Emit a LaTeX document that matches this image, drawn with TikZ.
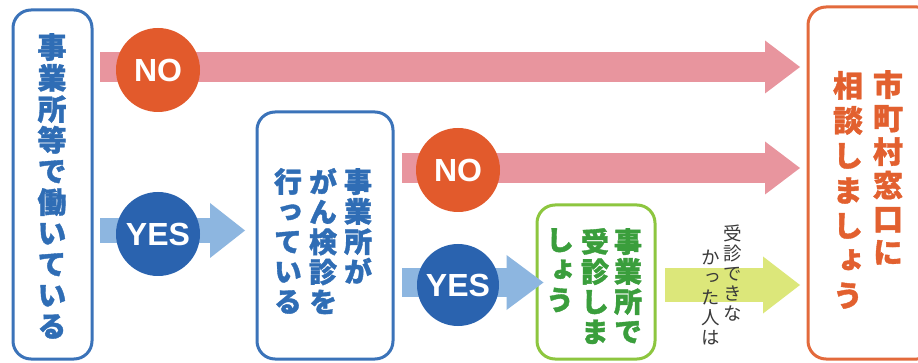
\documentclass[tikz,border=0pt]{standalone}
\usepackage{fontspec}
\setmainfont{Liberation Sans}
\newfontfamily\jp{Noto Sans CJK JP}[RawFeature=+vert, BoldFeatures={FakeBold=1.3}]
\usetikzlibrary{arrows.meta}
\definecolor{blueT}{HTML}{2F6DB5}
\definecolor{boxblue}{HTML}{3B73B9}
\definecolor{circBlue}{HTML}{2A63AF}
\definecolor{lightBlue}{HTML}{8DB6E0}
\definecolor{pinkA}{HTML}{E8959E}
\definecolor{redC}{HTML}{E25A2C}
\definecolor{greenB}{HTML}{8DC63F}
\definecolor{greenT}{HTML}{3A9E3C}
\definecolor{ygA}{HTML}{DCE77A}
\definecolor{orangeB}{HTML}{E36A3C}
\definecolor{orangeT}{HTML}{E2602F}
\definecolor{smallT}{HTML}{3A3A3A}
\begin{document}
\begin{tikzpicture}[x=1pt,y=-1pt,
  bx/.style={draw, line width=3pt, rounded corners=18pt, inner sep=0pt},
  circ/.style={circle, inner sep=0pt, minimum size=84pt, text=white,
    font=\bfseries\fontsize{32}{32}\selectfont},
  vt/.style={inner sep=0pt, align=center, anchor=north},
  bigjp/.style={font=\jp\bfseries\fontsize{28}{30}\selectfont},
]
\clip (0,0) rectangle (918,363);
\fill[white] (0,0) rectangle (918,363);

% boxes
\node[bx, draw=boxblue, minimum width=79pt, minimum height=349pt] (lbox) at (52.5,184.5) {};
\node[bx, draw=boxblue, minimum width=136pt, minimum height=247pt] (mbox) at (325,235.5) {};
\node[bx, draw=orangeB, minimum width=127pt, minimum height=352pt] (rbox) at (871.5,183) {};
\node[bx, draw=greenB, minimum width=118pt, minimum height=154pt] (gbox) at (596,282) {};

% start points of the arrows
\coordinate (s1) at (100,67);
\coordinate (s2) at (402,168);
\coordinate (s3) at (100,230.5);
\coordinate (s4) at (402,282.5);
\coordinate (s5) at (665,285);

% arrows
\draw[pinkA, line width=30pt, -{Triangle[length=35pt,width=53pt,line width=0pt]}, shorten >=6.5pt] (s1) -- (s1 -| rbox.west);
\draw[pinkA, line width=30pt, -{Triangle[length=35pt,width=53pt,line width=0pt]}, shorten >=6.5pt] (s2) -- (s2 -| rbox.west);
\draw[lightBlue, line width=25pt, -{Triangle[length=35pt,width=55pt,line width=0pt]}, shorten >=10.5pt] (s3) -- (s3 -| mbox.west);
\draw[lightBlue, line width=29pt, -{Triangle[length=37pt,width=55pt,line width=0pt]}, shorten >=-8pt] (s4) -- (s4 -| gbox.west);
\draw[ygA, line width=34pt, -{Triangle[length=37pt,width=57pt,line width=0pt]}, shorten >=6.5pt] (s5) -- (s5 -| rbox.west);

% circles
\node[circ, fill=redC] (no1) at (158,70) {NO};
\node[circ, fill=redC] (no2) at (458,170) {NO};
\node[circ, fill=circBlue] (yes1) at (158,234) {YES};
\node[circ, fill=circBlue, minimum size=82pt] (yes2) at (458,285) {YES};

% texts
\node[vt, text=blueT, font=\jp\bfseries\fontsize{29}{31}\selectfont] (t1) at (52,33) {事\\業\\所\\等\\で\\働\\い\\て\\い\\る};

\node[vt, bigjp, text=blueT] (t2a) at (358,168) {事\\業\\所\\が};
\node[vt, bigjp, text=blueT] (t2b) at (323,168) {が\\ん\\検\\診\\を};
\node[vt, bigjp, text=blueT] (t2c) at (288,168) {行\\っ\\て\\い\\る};

\node[vt, bigjp, text=greenT] (t3a) at (628,228) {事\\業\\所\\で};
\node[vt, bigjp, text=greenT] (t3b) at (595,228) {受\\診\\し\\ま};
\node[vt, bigjp, text=greenT] (t3c) at (560,228) {し\\ょ\\う};

\node[vt, text=orangeT, font=\jp\bfseries\fontsize{30}{33.5}\selectfont] (t4a) at (888,70) {市\\町\\村\\窓\\口\\に};
\node[vt, text=orangeT, font=\jp\bfseries\fontsize{30}{35}\selectfont] (t4b) at (848,71) {相\\談\\し\\ま\\し\\ょ\\う};

\node[vt, text=smallT, font=\jp\fontsize{18.5}{20}\selectfont] (t5a) at (733,225) {受\\診\\で\\き\\な};
\node[vt, text=smallT, font=\jp\fontsize{18.5}{20}\selectfont] (t5b) at (711,250) {か\\っ\\た\\人\\は};
\end{tikzpicture}
\end{document}
